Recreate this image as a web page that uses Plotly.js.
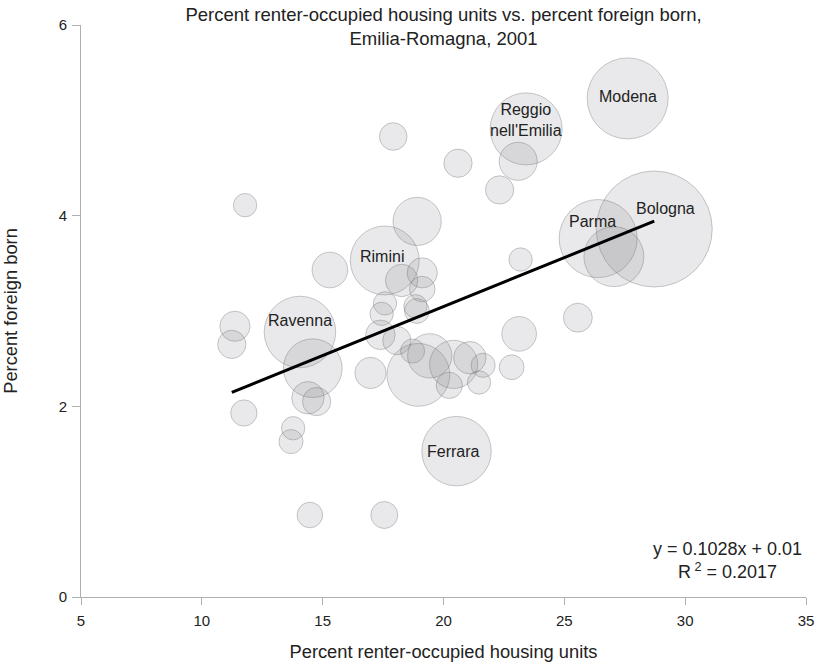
<!DOCTYPE html>
<html>
<head>
<meta charset="utf-8">
<script src="https://cdn.plot.ly/plotly-3.0.1.min.js"></script>
<style>html,body{margin:0;padding:0;background:#fff;}#chart{width:817px;height:663px;}</style>
</head>
<body>
<div id="chart"></div>
<script>
// Percent renter-occupied housing units (x), percent foreign born (y), population in thousands (bubble area)
var renterPct = [27.62, 23.42, 23.09, 20.60, 22.32, 23.19, 28.72, 26.40, 27.05, 25.56,
                 17.92, 11.79, 18.91, 17.57, 15.30, 18.27, 19.12, 19.12, 17.58, 17.44,
                 18.90, 18.84, 17.39, 18.07, 18.72, 18.96, 19.43, 20.42, 21.09, 21.64,
                 20.24, 21.47, 22.82, 23.13, 20.54, 14.06, 14.59, 11.37, 11.24, 14.39,
                 14.75, 11.74, 13.78, 13.69, 14.47, 17.55, 16.98];
var foreignPct = [5.23, 4.91, 4.57, 4.55, 4.27, 3.54, 3.86, 3.76, 3.57, 2.93,
                  4.83, 4.11, 3.94, 3.53, 3.43, 3.32, 3.40, 3.23, 3.08, 2.97,
                  3.00, 3.05, 2.75, 2.69, 2.58, 2.33, 2.53, 2.44, 2.51, 2.43,
                  2.22, 2.25, 2.41, 2.76, 1.53, 2.78, 2.40, 2.84, 2.65, 2.09,
                  2.05, 1.93, 1.77, 1.63, 0.86, 0.86, 2.35];
var popThousands = [181, 143, 40, 22, 22, 15, 371, 168, 99, 23,
                    21, 15, 64, 131, 35, 29, 25, 18, 15, 15,
                    17, 15, 24, 22, 16, 109, 54, 64, 29, 16,
                    19, 15, 17, 33, 133, 141, 95, 25, 22, 29,
                    22, 19, 15, 16, 18, 20, 27];
var cityNames = ["Modena", "Reggio<br>nell'Emilia", "", "", "", "", "Bologna", "Parma", "", "",
                 "", "", "", "Rimini", "", "", "", "", "", "",
                 "", "", "", "", "", "", "", "", "", "",
                 "", "", "", "", "Ferrara", "Ravenna", "", "", "", "",
                 "", "", "", "", "", "", ""];
var trendSlope = 0.1028;
var trendIntercept = 0.99;
var equationText = "y = 0.1028x + 0.01<br>R<sup> 2</sup> = 0.2017";
var xTickVals = [5, 10, 15, 20, 25, 30, 35];
var yTickVals = [0, 2, 4, 6];

// label placement offsets (px) for named cities
var labelShift = {
  "Modena": [0, 2], "Reggio<br>nell'Emilia": [0, 9], "Bologna": [11, 21],
  "Parma": [-6, 17], "Rimini": [-3, 4], "Ferrara": [-3, 0], "Ravenna": [0, 11]
};

var areaPerPx2 = 0.1103; // thousands of people per square pixel of bubble
var diam = popThousands.map(function (p) { return 2 * Math.sqrt(p / areaPerPx2); });

var FONT = 'Liberation Sans, Arial, sans-serif';
var bubbles = {
  type: 'scatter', mode: 'markers',
  x: renterPct, y: foreignPct,
  marker: {
    size: diam, sizemode: 'diameter', sizeref: 1,
    color: 'rgba(125,127,135,0.23)',
    line: { color: 'rgba(100,100,100,0.5)', width: 1 }
  },
  hoverinfo: 'x+y', showlegend: false
};

var xmin = Math.min.apply(null, renterPct), xmax = Math.max.apply(null, renterPct);
var trend = {
  type: 'scatter', mode: 'lines',
  x: [xmin, xmax],
  y: [trendSlope * xmin + trendIntercept, trendSlope * xmax + trendIntercept],
  line: { color: '#000', width: 3 },
  showlegend: false, hoverinfo: 'skip'
};

var annotations = [];
cityNames.forEach(function (n, i) {
  if (!n) return;
  var s = labelShift[n] || [0, 0];
  annotations.push({
    x: renterPct[i], y: foreignPct[i], xref: 'x', yref: 'y',
    text: n, showarrow: false, xshift: s[0], yshift: s[1],
    font: { family: FONT, size: 16, color: '#222' }
  });
});
annotations.push({
  x: 0.892, y: 0.063, xref: 'paper', yref: 'paper', xanchor: 'center', yanchor: 'middle',
  text: equationText, showarrow: false, align: 'center',
  font: { family: FONT, size: 18, color: '#222' }
});

var tickFont = { family: FONT, size: 15, color: '#222' };
var layout = {
  width: 817, height: 663,
  margin: { l: 81, r: 11, t: 25, b: 66 },
  paper_bgcolor: '#fff', plot_bgcolor: '#fff',
  font: tickFont,
  title: {
    text: 'Percent renter-occupied housing units vs. percent foreign born,<br>Emilia-Romagna, 2001',
    font: { family: FONT, size: 18.5, color: '#222' },
    x: 0.5, xref: 'paper', y: 0.968, yref: 'container', yanchor: 'top'
  },
  xaxis: {
    range: [5, 35], tickvals: xTickVals, showgrid: false, zeroline: false,
    showline: true, linecolor: '#b0b0b0', linewidth: 1,
    ticks: 'outside', ticklen: 7, tickcolor: '#b0b0b0', tickfont: tickFont,
    ticklabelstandoff: 3,
    title: { text: 'Percent renter-occupied housing units', font: { family: FONT, size: 18.3, color: '#222' }, standoff: 17 }
  },
  yaxis: {
    range: [0, 6], tickvals: yTickVals, showgrid: false, zeroline: false,
    showline: true, linecolor: '#b0b0b0', linewidth: 1,
    ticks: 'outside', ticklen: 8, tickcolor: '#b0b0b0', tickfont: tickFont,
    ticklabelstandoff: 2,
    title: { text: 'Percent foreign born', font: { family: FONT, size: 18.3, color: '#222' }, standoff: 38 }
  },
  annotations: annotations
};

Plotly.newPlot('chart', [bubbles, trend], layout, { displayModeBar: false, staticPlot: true });
</script>
</body>
</html>
